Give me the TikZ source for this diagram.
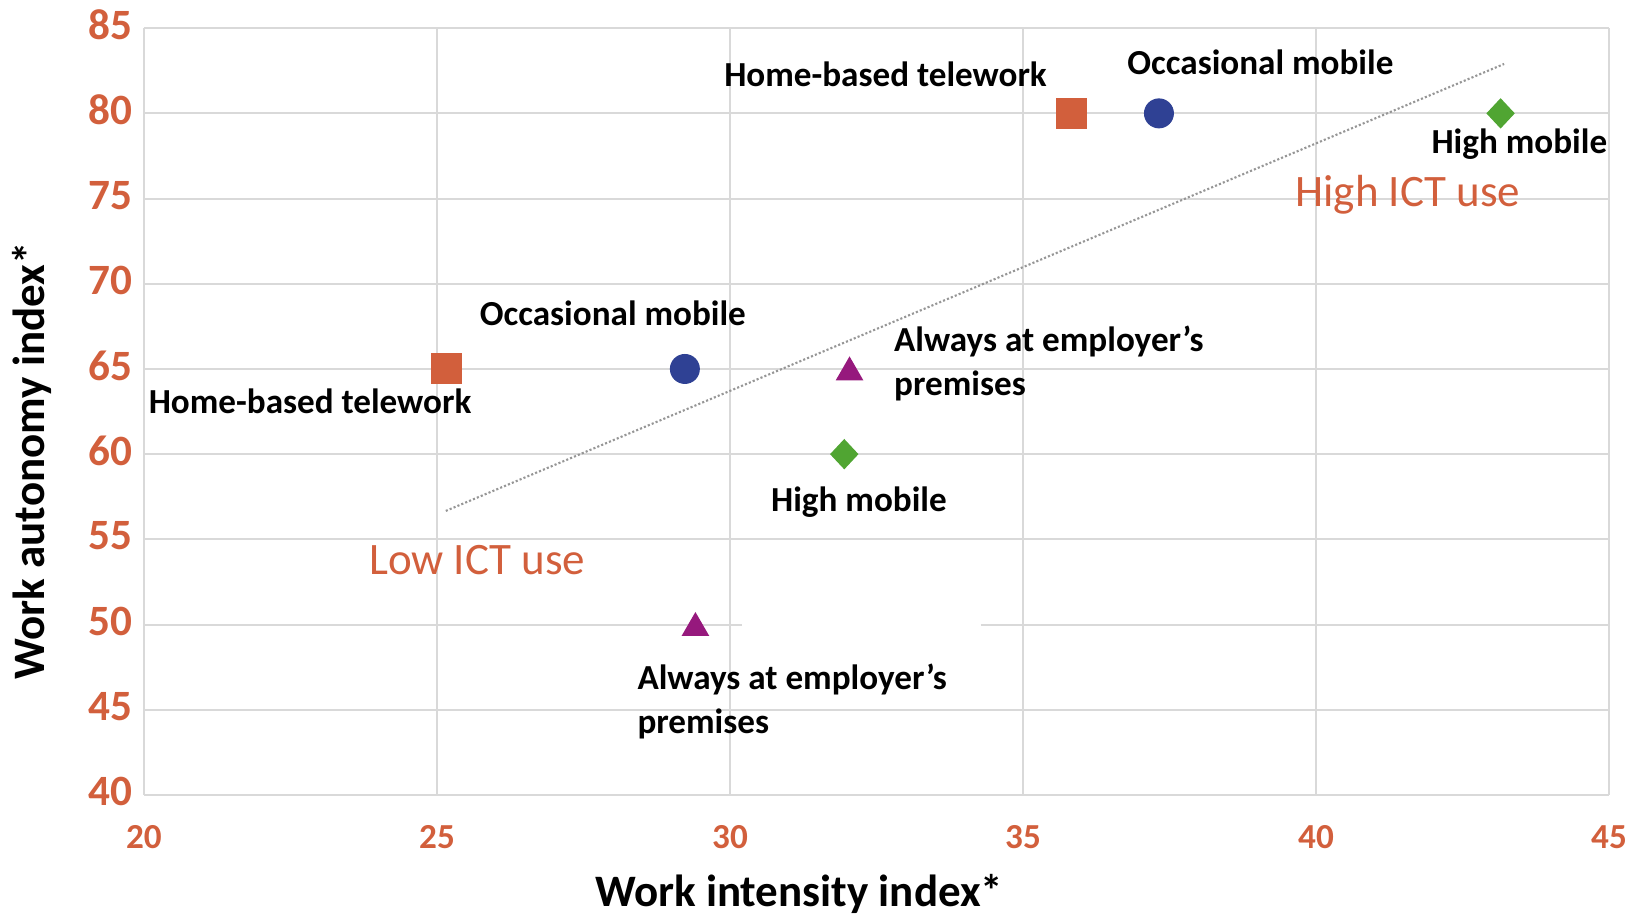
\documentclass[tikz,border=0pt]{standalone}
\usepackage{fontspec}
\setmainfont{Carlito}
\usetikzlibrary{shapes.geometric}
\definecolor{myorange}{RGB}{210,95,60}
\definecolor{myblue}{RGB}{47,65,148}
\definecolor{mygreen}{RGB}{80,165,50}
\definecolor{mypurple}{RGB}{150,25,125}
\definecolor{mygrid}{RGB}{217,217,217}
\definecolor{mytrend}{RGB}{150,150,150}
\newcommand{\GRIDPT}{0.6pt}
\newcommand{\LBLFONT}{\fontsize{10}{12.5}\selectfont\bfseries}
\newcommand{\ICTFONT}{\fontsize{12.8}{15}\selectfont}
\newcommand{\TITLEFONT}{\fontsize{12.8}{15}\selectfont\bfseries}

\begin{document}
\begin{tikzpicture}[x=0.586cm,y=0.1704cm,
	mksq/.style={rectangle,fill=myorange,minimum size=3.1mm,inner sep=0pt},
	mkcirc/.style={circle,fill=myblue,minimum size=3.0mm,inner sep=0pt},
	mkdia/.style={diamond,fill=mygreen,minimum width=2.9mm,minimum height=3.1mm,inner sep=0pt},
	mktri/.style={regular polygon,regular polygon sides=3,fill=mypurple,minimum size=3.2mm,inner sep=0pt},
	lbl/.style={font=\LBLFONT,inner sep=0pt,align=left,anchor=base west},
	ict/.style={font=\ICTFONT,text=myorange,inner sep=0pt,anchor=base west},
	xtick/.style={font=\fontsize{10}{12}\selectfont\bfseries,text=myorange,inner sep=0pt},
	ytick/.style={font=\fontsize{12.3}{14}\selectfont\bfseries,text=myorange,inner sep=0pt,anchor=east},
	gridline/.style={color=mygrid,line width=\GRIDPT}]
	
		\useasboundingbox (17.543,32.958) rectangle (45.461,86.655);
		
		%% grid
		\foreach \yy in {40,45,55,60,65,70,75,80,85}
			\draw[gridline] (20,\yy) -- (45,\yy);
		\draw[gridline] (20,50) -- (30.2,50);
		\draw[gridline] (34.28,50) -- (45,50);
		\foreach \xx in {20,25,...,45}
			\draw[gridline] (\xx,40) -- (\xx,85);
		
		%% ticks
		\foreach \yy in {40,45,...,85}
			\node[ytick] (ylab\yy) at (19.81,\yy+0.2) {\yy};
		\foreach \xx in {20,25,...,45}
			\node[xtick] (xlab\xx) at (\xx,37.54) {\xx};
		
		\node[font=\TITLEFONT,inner sep=0pt,anchor=base] (xtitle) at (31.18,33.46) {Work intensity index*};
		\node[font=\TITLEFONT,inner sep=0pt,anchor=base,rotate=90] (ytitle) at (18.31,59.6) {Work autonomy index*};
		
		%% trend
		\coordinate (t1) at (25.15,56.67);
		\coordinate (t2) at (43.21,82.9);
		\draw[color=mytrend,line width=0.6pt,dash pattern=on 0.6pt off 0.6pt] (t1) -- (t2);
		
		%% low ICT use
		\node[mksq] (hbtlow) at (25.17,65) {};
		\node[mkcirc] (omlow) at (29.23,65) {};
		\node[mkdia] (hmlow) at (31.95,60) {};
		\node[mktri] (awlow) at (29.41,49.8) {};
		
		%% high ICT use
		\node[mksq] (hbthigh) at (35.82,80) {};
		\node[mkcirc] (omhigh) at (37.32,80) {};
		\node[mkdia] (hmhigh) at (43.15,80) {};
		\node[mktri] (awhigh) at (32.04,64.8) {};
		
		%% labels
		\node[lbl] (hbtlowtxt) at (20.07,62.4) {Home-based telework};
		\node[lbl] (omlowtxt) at (25.72,67.55) {Occasional mobile};
		\node[lbl] (hmlowtxt) at (30.69,56.65) {High mobile};
		\node[lbl] (awlowtxt) at (28.41,43.63) {Always at employer’s\\premises};
		\node[lbl] (hbthightxt) at (29.89,81.55) {Home-based telework};
		\node[lbl] (omhightxt) at (36.77,82.3) {Occasional mobile};
		\node[lbl] (hmhightxt) at (41.96,77.62) {High mobile};
		\node[lbl] (awhightxt) at (32.79,63.45) {Always at employer’s\\premises};
		
		\node[ict] (lowict) at (23.83,52.95) {Low ICT use};
		\node[ict] (highict) at (39.64,74.51) {High ICT use};

	\end{tikzpicture}
\end{document}
